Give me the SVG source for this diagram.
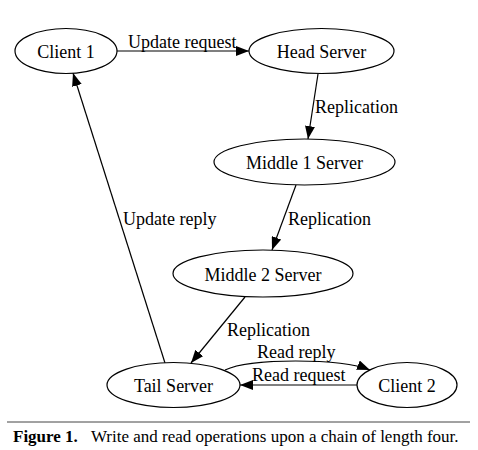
<svg xmlns="http://www.w3.org/2000/svg" width="478" height="450" viewBox="0 0 478 450">
<style>
.node ellipse{fill:#fff;stroke:#000;stroke-width:1.2}
.node text{font-family:"Liberation Serif","Times New Roman",serif;font-size:18px;text-anchor:middle;fill:#000}
.edges path,.edges line{stroke:#000;stroke-width:1.2;fill:none}
.lbl{font-family:"Liberation Serif","Times New Roman",serif;font-size:18px;fill:#000}
.cap{font-family:"Liberation Serif","Times New Roman",serif;font-size:17px;fill:#000}
</style>
<defs>
<marker id="ah" markerUnits="userSpaceOnUse" markerWidth="14" markerHeight="10" refX="13" refY="5" orient="auto" viewBox="0 0 14 10">
<path d="M0,0 L13,5 L0,10 z" fill="#000"/>
</marker>
</defs>
<rect width="478" height="450" fill="#fff"/>
<g id="edges" class="edges">
<line x1="117" y1="51" x2="249" y2="51" marker-end="url(#ah)"/>
<line x1="318" y1="74" x2="308" y2="139" marker-end="url(#ah)"/>
<line x1="296" y1="185" x2="272" y2="250" marker-end="url(#ah)"/>
<line x1="245" y1="297" x2="191" y2="363" marker-end="url(#ah)"/>
<line x1="165" y1="363" x2="73" y2="73" marker-end="url(#ah)"/>
<path d="M225,370 C250,358 340,358 370,370" marker-end="url(#ah)"/>
<line x1="357" y1="385" x2="240" y2="385" marker-end="url(#ah)"/>
<text class="lbl" x="128" y="48">Update request</text>
<text class="lbl" x="315" y="113">Replication</text>
<text class="lbl" x="288" y="225">Replication</text>
<text class="lbl" x="123" y="225">Update reply</text>
<text class="lbl" x="227" y="336">Replication</text>
<text class="lbl" x="257" y="358">Read reply</text>
<text class="lbl" x="252" y="381">Read request</text>
</g>
<g id="client1" class="node"><ellipse cx="66" cy="51" rx="51" ry="22.5"/><text x="66" y="58">Client 1</text></g>
<g id="head" class="node"><ellipse cx="321.5" cy="51" rx="72.5" ry="22.5"/><text x="321.5" y="58">Head Server</text></g>
<g id="middle1" class="node"><ellipse cx="304.5" cy="162" rx="90.5" ry="23"/><text x="304.5" y="169">Middle 1 Server</text></g>
<g id="middle2" class="node"><ellipse cx="263" cy="273.5" rx="90" ry="23.5"/><text x="263" y="280.5">Middle 2 Server</text></g>
<g id="tail" class="node"><ellipse cx="173.5" cy="385" rx="66.5" ry="22.5"/><text x="173.5" y="392">Tail Server</text></g>
<g id="client2" class="node"><ellipse cx="407" cy="385" rx="50" ry="22.5"/><text x="407" y="392">Client 2</text></g>
<g id="caption">
<line x1="7" y1="422" x2="470" y2="422" stroke="#444" stroke-width="1"/>
<text class="cap" x="13" y="442" font-weight="bold">Figure 1.</text>
<text class="cap" x="91" y="442">Write and read operations upon a chain of length four.</text>
</g>
</svg>
